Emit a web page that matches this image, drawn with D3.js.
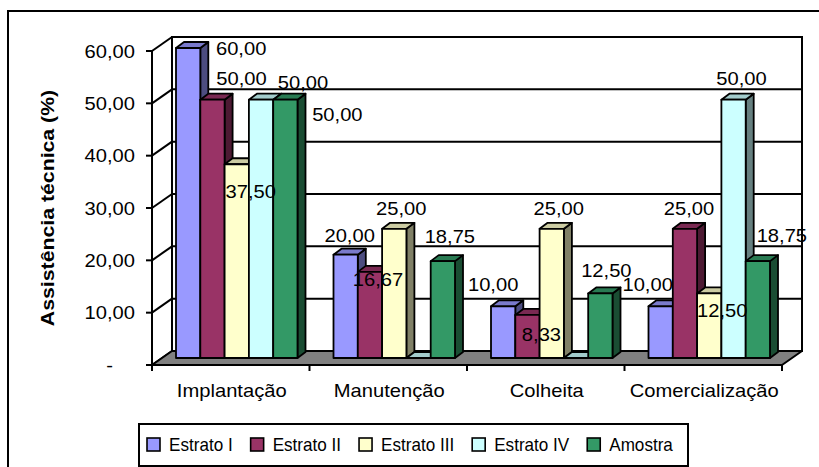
<!DOCTYPE html>
<html>
<head>
<meta charset="utf-8">
<script src="https://cdn.jsdelivr.net/npm/d3@7.9.0/dist/d3.min.js"></script>
<style>
  body { margin: 0; background: #fff; }
  svg { display: block; }
  text { font-family: "Liberation Sans", Arial, sans-serif; fill: #000; }
</style>
</head>
<body>
<svg id="chart" width="819" height="467"></svg>
<script>
// data
const categories = ['Implantação', 'Manutenção', 'Colheita', 'Comercialização'];
const seriesNames = ['Estrato I', 'Estrato II', 'Estrato III', 'Estrato IV', 'Amostra'];
const estratoI = [60, 20, 10, 10];
const estratoII = [50, 16.67, 8.33, 25];
const estratoIII = [37.5, 25, 25, 12.5];
const estratoIV = [50, 0, 0, 50];
const amostra = [50, 18.75, 12.5, 18.75];
const yTicks = [0, 10, 20, 30, 40, 50, 60];

const seriesValues = [estratoI, estratoII, estratoIII, estratoIV, amostra];
const colors = ['#9999FF', '#993366', '#FFFFCC', '#CCFFFF', '#339966'];

// excel drops the 3D labels loosely around each bar top, nudge them the same way
const labelShift = [
  [[53, 0], [29, -21], [14, 27], [42, -17], [52, 15]],
  [[4, -19], [8, 8], [7, -20], [0, 0], [7, -25]],
  [[-10, -22], [14, 20], [7, -20], [0, 0], [6, -23]],
  [[-13, -22], [4, -20], [13, 17], [8, -21], [24, -26]]
];

const svg = d3.select('#chart');
const sx = 1.12;  // windows Arial renders a bit wider
const fmt = v => d3.format('.2f')(v).replace('.', ',');

function shade(c, k) {
  const r = d3.rgb(c);
  return d3.rgb(r.r * k, r.g * k, r.b * k).formatHex();
}

function txt(g, x, y, s, anchor, size, scale) {
  return g.append('text')
    .attr('transform', `translate(${x},${y}) scale(${scale || sx},1)`)
    .attr('text-anchor', anchor || 'middle')
    .attr('font-size', size || 18)
    .text(s);
}

// geometry of the 3D box
const depth = { dx: 20, dy: -14 };
const bar3d = { dx: 8, dy: -6 };
const x = d3.scaleBand().domain(categories).range([152, 782]);
const s = d3.scaleBand().domain(seriesNames).range([24, 145.5]);
const yFront = d3.scaleLinear().domain([0, 60]).range([365, 51]);
const yBar = d3.scaleLinear().domain([0, 60]).range([358, 48]);
const x0 = x.range()[0], x1 = x.range()[1];

// outer border
svg.append('rect').attr('x', 8).attr('y', 11).attr('width', 830).attr('height', 480)
  .attr('fill', '#fff').attr('stroke', '#000').attr('stroke-width', 2);

// back wall
const bx0 = x0 + depth.dx, bx1 = x1 + depth.dx;
svg.append('rect')
  .attr('x', bx0).attr('y', yFront(60) + depth.dy)
  .attr('width', bx1 - bx0).attr('height', yFront(0) - yFront(60))
  .attr('fill', '#fff').attr('stroke', '#000').attr('stroke-width', 2);

// gridlines on back wall + side wall diagonals
yTicks.forEach(t => {
  const yf = yFront(t);
  svg.append('line').attr('x1', bx0).attr('x2', bx1)
    .attr('y1', yf + depth.dy).attr('y2', yf + depth.dy)
    .attr('stroke', '#000').attr('stroke-width', 2);
  svg.append('line').attr('x1', x0).attr('x2', bx0)
    .attr('y1', yf).attr('y2', yf + depth.dy)
    .attr('stroke', '#000').attr('stroke-width', 2);
  svg.append('line').attr('x1', x0 - 6).attr('x2', x0)
    .attr('y1', yf).attr('y2', yf)
    .attr('stroke', '#000').attr('stroke-width', 2);
  if (t === 0) {
    txt(svg, 113, yf + 6.5, '-', 'end');
  } else {
    txt(svg, 135, yf + 6.5, fmt(t), 'end');
  }
});

// front vertical axis
svg.append('line').attr('x1', x0).attr('x2', x0)
  .attr('y1', yFront(60)).attr('y2', yFront(0))
  .attr('stroke', '#000').attr('stroke-width', 2);

// floor
svg.append('polygon')
  .attr('points', [
    [x0, yFront(0)], [x1, yFront(0)],
    [x1 + depth.dx, yFront(0) + depth.dy], [bx0, yFront(0) + depth.dy]
  ].map(p => p.join(',')).join(' '))
  .attr('fill', '#808080').attr('stroke', '#000').attr('stroke-width', 2)
  .attr('stroke-linejoin', 'round');

// category ticks and labels
[...categories.map(c => x(c)), x1].forEach(px => {
  svg.append('line').attr('x1', px).attr('x2', px)
    .attr('y1', yFront(0)).attr('y2', yFront(0) + 6)
    .attr('stroke', '#000').attr('stroke-width', 2);
});
categories.forEach(c => {
  txt(svg, x(c) + x.bandwidth() / 2 + 1, 397, c);
});

// bars
const bars = svg.append('g');
categories.forEach((c, ci) => {
  seriesNames.forEach((name, si) => {
    const v = seriesValues[si][ci];
    const left = x(c) + s(name);
    const w = s.bandwidth();
    const top = yBar(v), base = yBar(0);
    const col = colors[si];
    const g = bars.append('g')
      .attr('stroke', '#000').attr('stroke-width', 1.8).attr('stroke-linejoin', 'round');
    g.append('polygon')
      .attr('points', [[left + w, top], [left + w + bar3d.dx, top + bar3d.dy],
        [left + w + bar3d.dx, base + bar3d.dy], [left + w, base]].map(p => p.join(',')).join(' '))
      .attr('fill', shade(col, 0.5));
    g.append('polygon')
      .attr('points', [[left, top], [left + bar3d.dx, top + bar3d.dy],
        [left + w + bar3d.dx, top + bar3d.dy], [left + w, top]].map(p => p.join(',')).join(' '))
      .attr('fill', shade(col, 0.8));
    g.append('rect')
      .attr('x', left).attr('y', top).attr('width', w).attr('height', base - top)
      .attr('fill', col);
  });
});

// value labels
categories.forEach((c, ci) => {
  seriesNames.forEach((name, si) => {
    const v = seriesValues[si][ci];
    if (v === 0) return;
    const cx = x(c) + s(name) + s.bandwidth() / 2;
    const [dx, dy] = labelShift[ci][si];
    txt(svg, cx + dx, yBar(v) + dy + 6.5, fmt(v));
  });
});

// y axis title
svg.append('text')
  .attr('transform', 'translate(54,208) rotate(-90) scale(1.12,1)')
  .attr('text-anchor', 'middle')
  .attr('font-size', 19)
  .attr('font-weight', 'bold')
  .text('Assistência técnica (%)');

// legend
const legend = svg.append('g');
legend.append('rect').attr('x', 139).attr('y', 424).attr('width', 549).attr('height', 42)
  .attr('fill', '#fff').attr('stroke', '#000').attr('stroke-width', 2);
let lx = 147;
seriesNames.forEach((name, si) => {
  legend.append('rect').attr('x', lx).attr('y', 438).attr('width', 13).attr('height', 13)
    .attr('fill', colors[si]).attr('stroke', '#000').attr('stroke-width', 1.6);
  const t = txt(legend, lx + 22, 451, name, 'start', 18, 0.95);
  lx += 22 + t.node().getComputedTextLength() * 0.95 + 18;
});
</script>
</body>
</html>
